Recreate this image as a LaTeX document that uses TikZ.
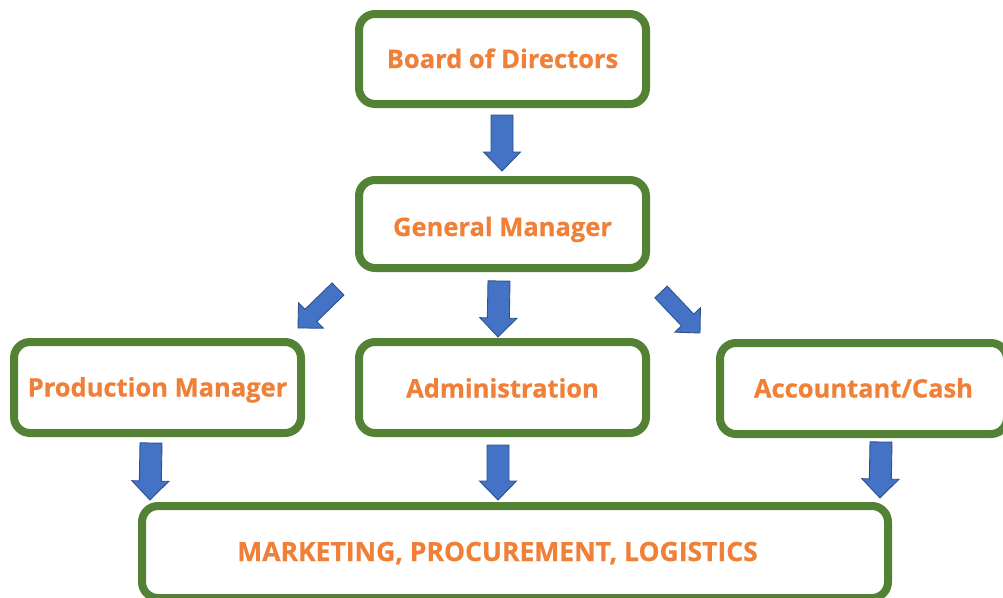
\documentclass[tikz,border=0pt]{standalone}
\usepackage{fontspec}
\setmainfont{Open Sans}
\newfontfamily\boxfont{Open Sans}[BoldFeatures={FakeBold=0.6}]
\usetikzlibrary{calc}
\definecolor{boxgreen}{HTML}{548235}
\definecolor{arrblue}{HTML}{4472C4}
\definecolor{arredge}{HTML}{2F528F}
\definecolor{txtorange}{HTML}{F07F38}
\tikzset{
  orgfont/.style={font=\boxfont\fontsize{25.5}{30}\selectfont\bfseries, text=txtorange,
    text height=18pt, text depth=0pt},
  orgbox/.style={draw=boxgreen, line width=8pt, rounded corners=16pt, fill=white,
    inner sep=0pt, minimum width=287pt, minimum height=91pt, orgfont},
  orgtext/.style={orgfont, inner sep=0pt},
  blockarrow/.style={fill=arrblue, draw=arredge, line width=0.9pt, line join=miter}
}
% \blockarr{shaft half width}{head half width}{head length}{start}{end}
\newcommand\blockarr[5]{%
  \path (#4) coordinate (ba-s) (#5) coordinate (ba-e);
  \path ($(ba-e)!#3!(ba-s)$) coordinate (ba-n);
  \draw[blockarrow] ($(ba-s)!#1!90:(ba-e)$) -- ($(ba-n)!#1!-90:(ba-s)$)
    -- ($(ba-n)!#2!-90:(ba-s)$) -- (ba-e) -- ($(ba-n)!#2!90:(ba-s)$)
    -- ($(ba-n)!#1!90:(ba-s)$) -- ($(ba-s)!#1!-90:(ba-e)$) -- cycle;
}
\begin{document}
\begin{tikzpicture}[x=1pt,y=-1pt]
\useasboundingbox (0,0) rectangle (1003,597);
\fill[white] (0,0) rectangle (1003,597);

\node[orgbox, minimum height=90pt] (board) at (502.5,59) {Board of Directors};
\node[orgbox, minimum height=88pt] (gm) at (502.5,224) {\raisebox{-3pt}{General Manager}};
\node[orgbox] (prod) at (157.5,387.5) {Production Manager};
\node[orgbox] (admin) at (502.5,387.5) {\raisebox{-1pt}{Administration}};
\node[orgbox] (acct) at (863.5,388.5) {Accountant/Cash};
\node[orgbox, minimum width=746pt, minimum height=92pt] (bottom) at (515,552) {};
\node[orgtext, font=\boxfont\fontsize{26.5}{30}\selectfont\bfseries] (bottomtext) at (497.5,552) {MARKETING, PROCUREMENT, LOGISTICS};

% connectors
\coordinate (t1) at (502,115);  \coordinate (h1) at (502,171);
\coordinate (t2) at (499,281);  \coordinate (h2) at (498,337);
\coordinate (t3) at (338,289);  \coordinate (h3) at (298,328);
\coordinate (t4) at (661,292);  \coordinate (h4) at (700,333);
\coordinate (t5) at (151,443);  \coordinate (h5) at (150,500);
\coordinate (t6) at (498,445);  \coordinate (h6) at (498,500);
\coordinate (t7) at (881,442);  \coordinate (h7) at (880,498);

\blockarr{11pt}{18.5pt}{19pt}{t1}{h1}
\blockarr{11pt}{18.5pt}{19pt}{t2}{h2}
\blockarr{8.5pt}{17.7pt}{18pt}{t3}{h3}
\blockarr{8.5pt}{17.7pt}{18pt}{t4}{h4}
\blockarr{11pt}{18.5pt}{19pt}{t5}{h5}
\blockarr{11pt}{18.5pt}{19pt}{t6}{h6}
\blockarr{11pt}{18.5pt}{19pt}{t7}{h7}
\end{tikzpicture}
\end{document}
